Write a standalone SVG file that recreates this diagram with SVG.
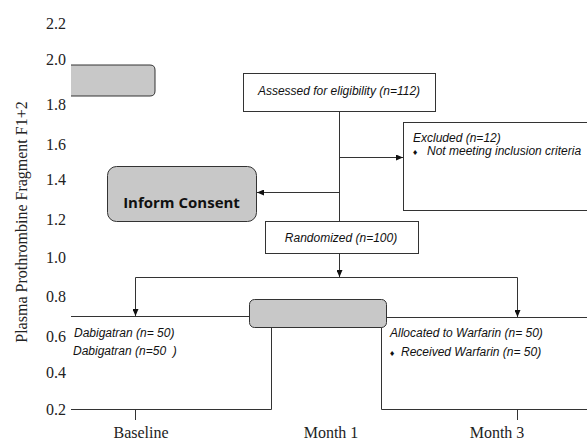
<svg xmlns="http://www.w3.org/2000/svg" width="587" height="442" viewBox="0 0 587 442">
<defs>
<marker id="ah" markerWidth="7" markerHeight="6" refX="7" refY="3" orient="auto" markerUnits="userSpaceOnUse">
<path d="M0,0 L7,3 L0,6 Z" fill="#111"/>
</marker>
<style>
.ln{fill:none;stroke:#333;stroke-width:1}
.box{fill:#fff;stroke:#333;stroke-width:1}
.gray{fill:#c8c8c8;stroke:#333;stroke-width:1}
.tk{font-family:"Liberation Serif","Times New Roman",serif;font-size:16px;fill:#222}
.it{font-family:"Liberation Sans",Arial,sans-serif;font-size:12px;font-style:italic;fill:#111}
.bl{font-family:"DejaVu Sans",sans-serif;font-size:7px;fill:#111}
.bold{font-family:"Open Sans","Noto Sans",sans-serif;font-size:15px;font-weight:bold;fill:#111}
</style>
</defs>
<rect width="587" height="442" fill="#fff"/>
<g id="axis">
<text class="tk" x="27" y="222" text-anchor="middle" transform="rotate(-90 27 222)">Plasma Prothrombine Fragment F1+2</text>
<g class="tk" text-anchor="end">
<text x="66" y="29">2.2</text>
<text x="66" y="65">2.0</text>
<text x="66" y="110">1.8</text>
<text x="66" y="150">1.6</text>
<text x="66" y="185">1.4</text>
<text x="66" y="225">1.2</text>
<text x="66" y="263">1.0</text>
<text x="66" y="302">0.8</text>
<text x="66" y="342">0.6</text>
<text x="66" y="378">0.4</text>
<text x="66" y="415">0.2</text>
</g>
<g class="tk" text-anchor="middle">
<text x="141" y="438">Baseline</text>
<text x="331" y="438">Month 1</text>
<text x="497" y="438">Month 3</text>
</g>
</g>
<g id="topbar">
<path class="gray" d="M71,65 H150 Q155,65 155,70 V91 Q155,96 150,96 H71"/>
</g>
<g id="assessed">
<rect class="box" x="243.5" y="73.5" width="192" height="38"/>
<text class="it" x="339" y="95" text-anchor="middle">Assessed for eligibility (n=112)</text>
</g>
<g id="excluded">
<rect class="box" x="403.5" y="122.5" width="200" height="88"/>
<text class="it" x="413" y="142">Excluded (n=12)</text>
<text class="bl" x="412" y="155">♦</text>
<text class="it" x="427" y="155">Not meeting inclusion criteria</text>
</g>
<g id="consent">
<rect class="gray" x="107.5" y="166.5" width="149" height="55" rx="9"/>
<text class="bold" x="181.5" y="208" text-anchor="middle">Inform Consent</text>
</g>
<g id="randomized">
<rect class="box" x="265.5" y="221.5" width="153" height="32"/>
<text class="it" x="341" y="242" text-anchor="middle">Randomized (n=100)</text>
</g>
<g id="midbar">
<rect class="gray" x="249.5" y="299.5" width="137" height="28" rx="5"/>
</g>
<g id="dabigatran">
<path class="ln" d="M71,316.5 H249.5 M271.5,327.5 V409.5 H71 M135.5,409.5 V420"/>
<text class="it" x="74" y="337">Dabigatran (n= 50)</text>
<text class="it" x="73" y="355" xml:space="preserve">Dabigatran (n=50  )</text>
</g>
<g id="warfarin">
<path class="ln" d="M386.5,317.5 H587 M381.5,327.5 V409.5 H587 M517.5,409.5 V420"/>
<text class="it" x="390" y="337">Allocated to Warfarin (n= 50)</text>
<text class="bl" x="389" y="356">♦</text>
<text class="it" x="401" y="356">Received Warfarin (n= 50)</text>
</g>
<g id="connectors">
<path class="ln" d="M339.5,111.5 V221.5"/>
<path class="ln" d="M339.5,157.5 H403" marker-end="url(#ah)"/>
<path class="ln" d="M339.5,192.5 H257" marker-end="url(#ah)"/>
<path class="ln" d="M339.5,253.5 V277" marker-end="url(#ah)"/>
<path class="ln" d="M135.5,277.5 H517.5"/>
<path class="ln" d="M135.5,277.5 V316" marker-end="url(#ah)"/>
<path class="ln" d="M517.5,277.5 V317" marker-end="url(#ah)"/>
</g>
</svg>
